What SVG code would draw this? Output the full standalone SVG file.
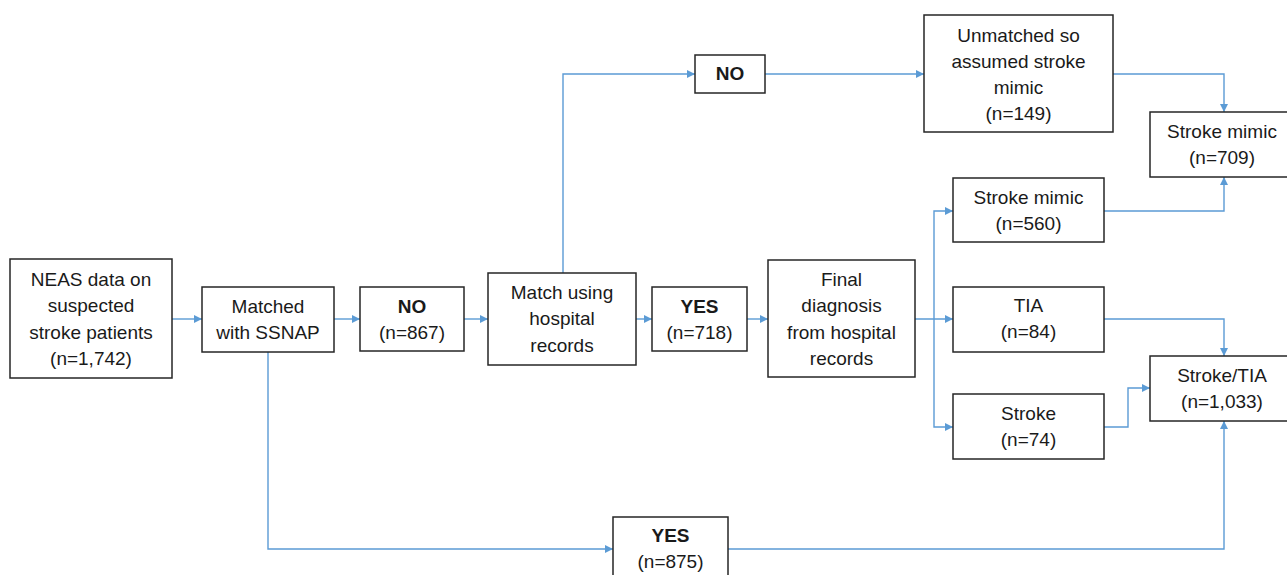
<svg xmlns="http://www.w3.org/2000/svg" width="1287" height="575" viewBox="0 0 1287 575">
  <style>
    .box { fill: #ffffff; stroke: #262626; stroke-width: 1.5; }
    .lbl { font-family: "Liberation Sans", Arial, sans-serif; font-size: 19px; fill: #1a1a1a; text-anchor: middle; }
    .b { font-weight: bold; }
    .con { fill: none; stroke: #5B9BD5; stroke-width: 1.4; marker-end: url(#arr); }
  </style>
  <defs>
    <marker id="arr" viewBox="0 0 10 10" refX="10" refY="5" markerWidth="8" markerHeight="8" markerUnits="userSpaceOnUse" orient="auto">
      <path d="M0,0 L10,5 L0,10 z" fill="#5B9BD5"/>
    </marker>
  </defs>

  <!-- connectors -->
  <g id="connectors">
    <path class="con" d="M172,319 H202"/>
    <path class="con" d="M334,319 H360"/>
    <path class="con" d="M464,319 H488"/>
    <path class="con" d="M636,319 H652"/>
    <path class="con" d="M747,319 H768"/>
    <path class="con" d="M915,319 H953"/>
    <path class="con" d="M934,319 V211 H953"/>
    <path class="con" d="M934,319 V427 H953"/>
    <path class="con" d="M563,273 V74 H695"/>
    <path class="con" d="M765,74 H924"/>
    <path class="con" d="M1113,74 H1224 V112"/>
    <path class="con" d="M1104,211 H1224 V177"/>
    <path class="con" d="M1104,319 H1224 V356"/>
    <path class="con" d="M1104,427 H1128 V388 H1150"/>
    <path class="con" d="M268,352 V549 H613"/>
    <path class="con" d="M728,549 H1224 V421"/>
  </g>

  <g id="neas">
    <rect class="box" x="10" y="259" width="162" height="119"/>
    <text class="lbl" x="91" y="286">NEAS data on</text>
    <text class="lbl" x="91" y="312">suspected</text>
    <text class="lbl" x="91" y="339">stroke patients</text>
    <text class="lbl" x="91" y="365">(n=1,742)</text>
  </g>

  <g id="matched-ssnap">
    <rect class="box" x="202" y="287" width="132" height="65"/>
    <text class="lbl" x="268" y="313">Matched</text>
    <text class="lbl" x="268" y="339">with SSNAP</text>
  </g>

  <g id="no-867">
    <rect class="box" x="360" y="287" width="104" height="64"/>
    <text class="lbl b" x="412" y="313">NO</text>
    <text class="lbl" x="412" y="339">(n=867)</text>
  </g>

  <g id="match-hospital">
    <rect class="box" x="488" y="273" width="148" height="92"/>
    <text class="lbl" x="562" y="299">Match using</text>
    <text class="lbl" x="562" y="325">hospital</text>
    <text class="lbl" x="562" y="352">records</text>
  </g>

  <g id="yes-718">
    <rect class="box" x="652" y="287" width="95" height="64"/>
    <text class="lbl b" x="699.5" y="313">YES</text>
    <text class="lbl" x="699.5" y="339">(n=718)</text>
  </g>

  <g id="final-diagnosis">
    <rect class="box" x="768" y="260" width="147" height="117"/>
    <text class="lbl" x="841.5" y="286">Final</text>
    <text class="lbl" x="841.5" y="312">diagnosis</text>
    <text class="lbl" x="841.5" y="339">from hospital</text>
    <text class="lbl" x="841.5" y="365">records</text>
  </g>

  <g id="no-top">
    <rect class="box" x="695" y="55" width="70" height="38"/>
    <text class="lbl b" x="730" y="80">NO</text>
  </g>

  <g id="unmatched">
    <rect class="box" x="924" y="15" width="189" height="117"/>
    <text class="lbl" x="1018.5" y="42">Unmatched so</text>
    <text class="lbl" x="1018.5" y="68">assumed stroke</text>
    <text class="lbl" x="1018.5" y="94">mimic</text>
    <text class="lbl" x="1018.5" y="120">(n=149)</text>
  </g>

  <g id="mimic-709">
    <rect class="box" x="1150" y="112" width="146" height="65"/>
    <text class="lbl" x="1222" y="138">Stroke mimic</text>
    <text class="lbl" x="1222" y="164">(n=709)</text>
  </g>

  <g id="mimic-560">
    <rect class="box" x="953" y="178" width="151" height="64"/>
    <text class="lbl" x="1028.5" y="204">Stroke mimic</text>
    <text class="lbl" x="1028.5" y="230">(n=560)</text>
  </g>

  <g id="tia-84">
    <rect class="box" x="953" y="287" width="151" height="65"/>
    <text class="lbl" x="1028.5" y="312">TIA</text>
    <text class="lbl" x="1028.5" y="338">(n=84)</text>
  </g>

  <g id="stroke-74">
    <rect class="box" x="953" y="394" width="151" height="65"/>
    <text class="lbl" x="1028.5" y="420">Stroke</text>
    <text class="lbl" x="1028.5" y="446">(n=74)</text>
  </g>

  <g id="stroke-tia">
    <rect class="box" x="1150" y="356" width="146" height="65"/>
    <text class="lbl" x="1222" y="382">Stroke/TIA</text>
    <text class="lbl" x="1222" y="408">(n=1,033)</text>
  </g>

  <g id="yes-875">
    <rect class="box" x="613" y="517" width="115" height="70"/>
    <text class="lbl b" x="670.5" y="542">YES</text>
    <text class="lbl" x="670.5" y="568">(n=875)</text>
  </g>
</svg>
